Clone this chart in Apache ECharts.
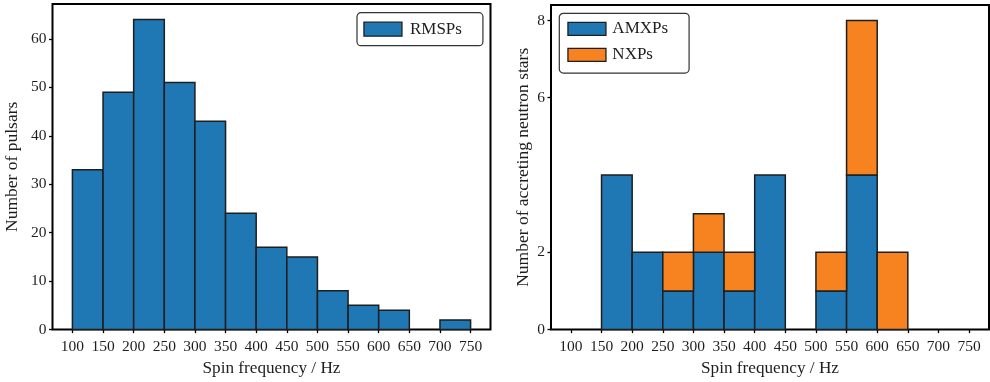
<!DOCTYPE html>
<html>
<head>
<meta charset="utf-8">
<script src="https://cdn.jsdelivr.net/npm/echarts@6/dist/echarts.min.js"></script>
<style>
  html, body { margin: 0; padding: 0; background: #fff; }
  #chart { width: 990px; height: 382px; }
</style>
</head>
<body>
<div id="chart"></div>
<script>
// Histogram bin edges (Hz), shared by both panels
const binEdges = [100, 150, 200, 250, 300, 350, 400, 450, 500, 550, 600, 650, 700, 750];
// Counts per bin
const rmspCounts = [33, 49, 64, 51, 43, 24, 17, 15, 8, 5, 4, 0, 2];
const amxpCounts = [0, 4, 2, 1, 2, 1, 4, 0, 1, 4, 0, 0, 0];
const nxpCounts  = [0, 0, 0, 1, 1, 1, 0, 0, 1, 4, 2, 0, 0];
// Tick labels
const xTicks = [100, 150, 200, 250, 300, 350, 400, 450, 500, 550, 600, 650, 700, 750];
const leftYTicks = [0, 10, 20, 30, 40, 50, 60];
const rightYTicks = [0, 2, 6, 8];

const BLUE = '#1f77b4';
const ORANGE = '#f68220';
const EDGE = '#1e1e1e';
const FONT = 'Liberation Serif';
const TXT = '#1e1e1e';

// [x0, x1, yBottom, yTop] rectangles, optionally stacked on a base
function toRects(counts, base) {
  const out = [];
  counts.forEach((c, i) => {
    const b = base ? base[i] : 0;
    if (c > 0) out.push([binEdges[i], binEdges[i + 1], b, b + c]);
  });
  return out;
}

function renderBin(params, api) {
  const p0 = api.coord([api.value(0), api.value(2)]);
  const p1 = api.coord([api.value(1), api.value(3)]);
  return {
    type: 'rect',
    shape: { x: p0[0], y: p1[1], width: p1[0] - p0[0], height: p0[1] - p1[1] },
    style: api.style()
  };
}

function xAxisCfg(gridIndex) {
  return {
    type: 'value', gridIndex, min: 67.5, max: 782.5,
    name: 'Spin frequency / Hz', nameLocation: 'middle', nameGap: 30,
    nameTextStyle: { fontFamily: FONT, fontSize: 17.2, color: TXT },
    axisLine: { show: false },
    splitLine: { show: false },
    axisTick: { show: true, length: 3.5, lineStyle: { color: '#000', width: 1.3 }, customValues: xTicks },
    axisLabel: { fontFamily: FONT, fontSize: 15.5, color: TXT, margin: 9.5, customValues: xTicks }
  };
}

function yAxisCfg(gridIndex, max, ticks, name, gap) {
  return {
    type: 'value', gridIndex, min: 0, max,
    name, nameLocation: 'middle', nameGap: gap,
    nameTextStyle: { fontFamily: FONT, fontSize: 17.5, color: TXT },
    axisLine: { show: false },
    splitLine: { show: false },
    axisTick: { show: true, length: 3.5, lineStyle: { color: '#000', width: 1.3 }, customValues: ticks },
    axisLabel: { fontFamily: FONT, fontSize: 15.5, color: TXT, margin: 6, customValues: ticks }
  };
}

function legendItem(name, color) {
  return { name, icon: 'rect', itemStyle: { color, borderColor: EDGE, borderWidth: 1.3 } };
}

const chart = echarts.init(document.getElementById('chart'), null, { renderer: 'canvas' });
chart.setOption({
  animation: false,
  backgroundColor: '#fff',
  grid: [
    { left: 52.5, right: 990 - 490.5, top: 4, bottom: 382 - 330.5, show: true, borderColor: '#000', borderWidth: 2, containLabel: false },
    { left: 551, right: 990 - 989, top: 5, bottom: 382 - 331.5, show: true, borderColor: '#000', borderWidth: 2, containLabel: false }
  ],
  xAxis: [xAxisCfg(0), xAxisCfg(1)],
  yAxis: [
    yAxisCfg(0, 67.2, leftYTicks, 'Number of pulsars', 31),
    yAxisCfg(1, 8.4, rightYTicks, 'Number of accreting neutron stars', 19)
  ],
  legend: [
    {
      left: 357, top: 12.7, orient: 'vertical', selectedMode: false,
      itemWidth: 38, itemHeight: 14, itemGap: 9,
      padding: [8, 21, 8, 6.3],
      borderColor: '#333', borderWidth: 1.2, borderRadius: 4, backgroundColor: '#fff',
      textStyle: { fontFamily: FONT, fontSize: 17, color: TXT, lineHeight: 16, padding: [0, 0, 0, 3] },
      data: [legendItem('RMSPs', BLUE)]
    },
    {
      left: 559.3, top: 13.3, orient: 'vertical', selectedMode: false,
      itemWidth: 38, itemHeight: 13, itemGap: 9,
      padding: [7, 21, 9.8, 8],
      borderColor: '#333', borderWidth: 1.2, borderRadius: 4, backgroundColor: '#fff',
      textStyle: { fontFamily: FONT, fontSize: 17, color: TXT, lineHeight: 16, padding: [0, 0, 0, 1.4] },
      data: [legendItem('AMXPs', BLUE), legendItem('NXPs', ORANGE)]
    }
  ],
  series: [
    {
      name: 'RMSPs', type: 'custom', xAxisIndex: 0, yAxisIndex: 0,
      renderItem: renderBin, encode: { x: [0, 1], y: [2, 3] },
      itemStyle: { color: BLUE, borderColor: EDGE, borderWidth: 1.5 },
      data: toRects(rmspCounts)
    },
    {
      name: 'AMXPs', type: 'custom', xAxisIndex: 1, yAxisIndex: 1,
      renderItem: renderBin, encode: { x: [0, 1], y: [2, 3] },
      itemStyle: { color: BLUE, borderColor: EDGE, borderWidth: 1.5 },
      data: toRects(amxpCounts)
    },
    {
      name: 'NXPs', type: 'custom', xAxisIndex: 1, yAxisIndex: 1,
      renderItem: renderBin, encode: { x: [0, 1], y: [2, 3] },
      itemStyle: { color: ORANGE, borderColor: EDGE, borderWidth: 1.5 },
      data: toRects(nxpCounts, amxpCounts)
    }
  ]
});
</script>
</body>
</html>
